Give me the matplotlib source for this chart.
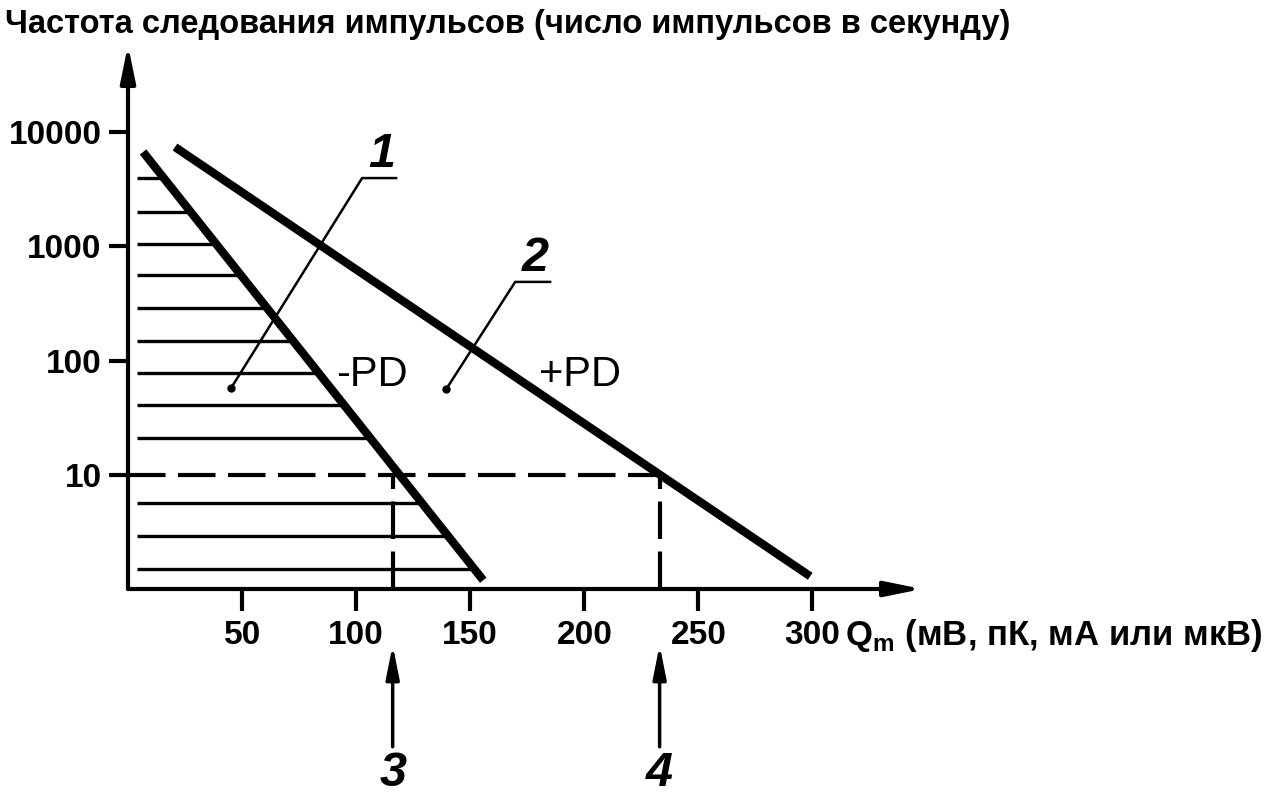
import numpy as np
import matplotlib
matplotlib.use("Agg")
import matplotlib.pyplot as plt
from matplotlib.ticker import NullLocator

# two boundary lines (start/end points): Q in mV/pC, rate in pulses per second
neg_pd_q = [6.6, 155.7]
neg_pd_rate = [6700, 1.2]
pos_pd_q = [20.6, 299.0]
pos_pd_rate = [7400, 1.3]

# hatching levels below the -PD line
hatch_rates = [4000, 2000, 1050, 560, 290, 150, 78, 41, 21, 5.7, 2.9, 1.5]

ref_rate = 10
q_marks = [116, 233]          # arrows 3 and 4
x_ticks = [50, 100, 150, 200, 250, 300]
y_ticks = [10, 100, 1000, 10000]
y_labels = ["10", "100", "1000", "10000"]

FONT = ["Liberation Sans", "DejaVu Sans"]

fig = plt.figure(figsize=(12.75, 7.97), dpi=100)
ax = fig.add_axes([128 / 1275, 208 / 797, 794 / 1275, 544 / 797])
ax.set_yscale("log")
ax.set_xlim(0, 348)
ax.set_ylim(10 ** 0.0026, 10 ** 4.762)
for s in ax.spines.values():
    s.set_visible(False)

# axes drawn as arrows
arr = dict(arrowstyle="-|>,head_length=2.2,head_width=0.45", lw=3, color="black",
           mutation_scale=10, shrinkA=0, shrinkB=0)
ax.annotate("", xy=(0, 1), xytext=(0, 0), xycoords="axes fraction", arrowprops=arr,
            annotation_clip=False)
ax.annotate("", xy=(1, 0), xytext=(0, 0), xycoords="axes fraction", arrowprops=arr,
            annotation_clip=False)

ax.set_xticks(x_ticks)
ax.set_xticklabels([str(v) for v in x_ticks], family=FONT, fontsize=24, fontweight="bold")
ax.set_yticks(y_ticks)
ax.set_yticklabels(y_labels, family=FONT, fontsize=24, fontweight="bold")
ax.yaxis.set_minor_locator(NullLocator())
ax.tick_params(axis="x", length=16, width=3, pad=6)
ax.tick_params(axis="y", length=14, width=3, pad=5)

# hatching up to the -PD line
l1, l2 = np.log10(neg_pd_rate)
for r in hatch_rates:
    xe = neg_pd_q[0] + (l1 - np.log10(r)) / (l1 - l2) * (neg_pd_q[1] - neg_pd_q[0])
    ax.plot([4, xe], [r, r], color="black", lw=2.4, solid_capstyle="butt")

# reference dashed lines
dash = dict(color="black", lw=3, dashes=(9, 3))
ax.plot([0, q_marks[1]], [ref_rate, ref_rate], **dash)
for q in q_marks:
    ax.plot([q, q], [ax.get_ylim()[0], ref_rate], **dash)

# boundary lines
ax.plot(neg_pd_q, neg_pd_rate, color="black", lw=6, solid_capstyle="butt")
ax.plot(pos_pd_q, pos_pd_rate, color="black", lw=6, solid_capstyle="butt")

ax.text(107, 75, "-PD", family=FONT, fontsize=30, ha="center", va="center")
ax.text(198, 75, "+PD", family=FONT, fontsize=30, ha="center", va="center")

# numbered leaders
leaders = [((102.6, 3960), (117.5, 3960), (45.2, 57.7), "1"),
           ((169.7, 489), (185.0, 489), (139.5, 56.5), "2")]
for (xa, ya), (xb, _), (xd, yd), lab in leaders:
    ax.plot([xd, xa, xb], [yd, ya, ya], color="black", lw=1.8)
    ax.plot(xd, yd, "o", color="black", ms=5)
    ax.annotate(lab, xy=((xa + xb) / 2 + 1, ya), xytext=(0, 1), textcoords="offset points",
                ha="center", va="bottom", family=FONT, fontsize=35, style="italic",
                fontweight="bold")

# arrows 3 and 4 below the axis
tr = ax.get_xaxis_transform()
for q, lab in zip(q_marks, ["3", "4"]):
    ax.annotate("", xy=(q, -0.103), xytext=(q, -0.29), xycoords=tr,
                arrowprops=dict(arrowstyle="-|>,head_length=2.0,head_width=0.4",
                                lw=2.5, color="black", mutation_scale=10,
                                shrinkA=0, shrinkB=0), annotation_clip=False)
    ax.text(q, -0.298, lab, transform=tr, ha="center", va="top", family=FONT,
            fontsize=35, style="italic", fontweight="bold")

fig.text(5 / 1275, 1 - 24 / 797, "Частота следования импульсов (число импульсов в секунду)",
         family=FONT, fontsize=23.5, fontweight="bold", ha="left", va="center")
fig.text(845 / 1275, 1 - 636 / 797, "Q$_\\mathregular{m}$ (мВ, пК, мА или мкВ)",
         family=FONT, fontsize=25, fontweight="bold", ha="left", va="center")

fig.savefig("out.png", dpi=100)
